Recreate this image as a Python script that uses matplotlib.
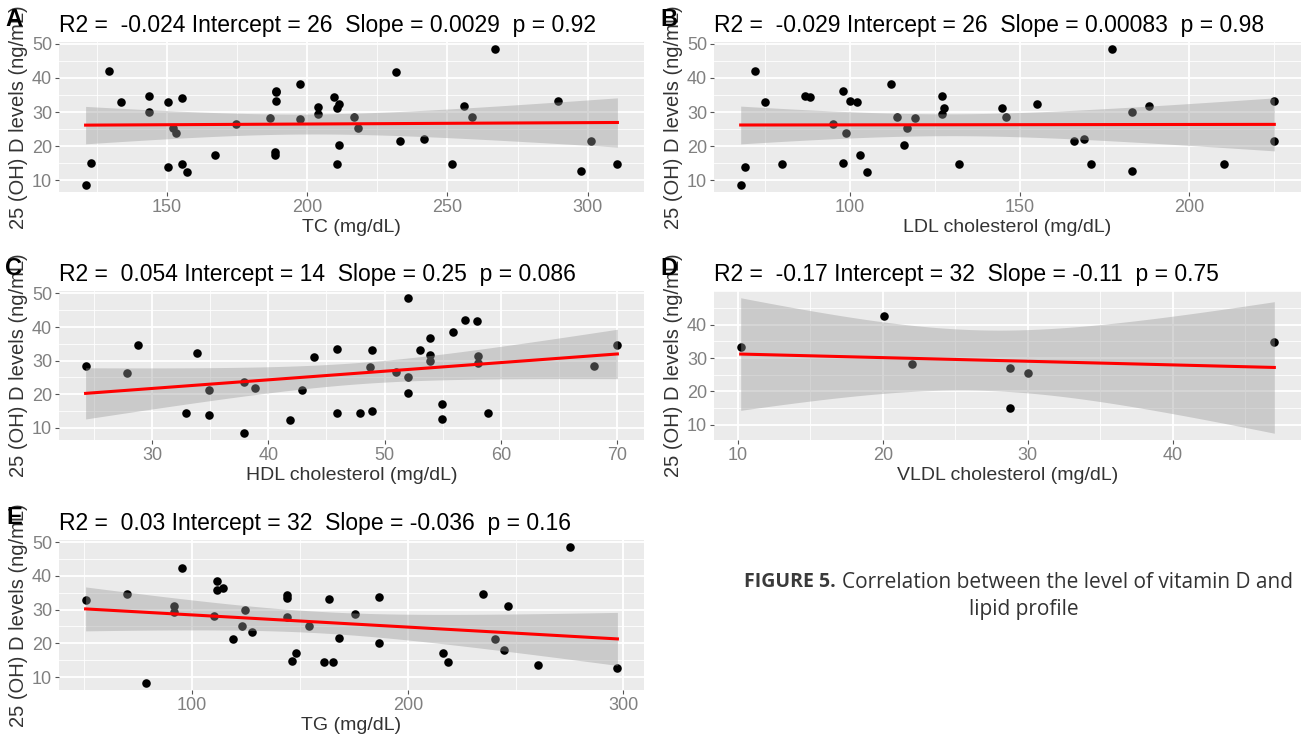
import numpy as np
import matplotlib.pyplot as plt
from matplotlib.ticker import FixedLocator, MultipleLocator

plt.rcParams["font.family"] = ["Liberation Sans", "DejaVu Sans"]

# Panel A: total cholesterol
tc_mg = [121, 123, 129.4, 133.5, 143.5, 143.5, 150.3, 150.3, 152, 153.4, 155.4, 155.4,
         157.2, 167.2, 174.6, 186.6, 188.8, 188.8, 188.8, 188.6, 188.6, 197.3, 197.3,
         203.8, 203.8, 209.7, 210.6, 211.4, 211.4, 210.6, 216.7, 218, 231.8, 233, 241.7,
         251.8, 256, 258.9, 266.8, 289.4, 297.5, 301.3, 310.6]
tc_vitd = [8.6, 15, 42, 33, 34.6, 30, 33, 14, 25.4, 23.8, 34.2, 14.7, 12.4, 17.4, 26.6,
           28.3, 36.3, 35.8, 33.3, 18.4, 17.4, 38.2, 27.9, 31.5, 29.5, 34.5, 31.2, 32.3,
           20.4, 14.7, 28.6, 25.3, 41.6, 21.5, 22, 14.7, 31.7, 28.6, 48.5, 33.3, 12.8,
           21.5, 14.7]

# Panel B: LDL cholesterol
ldl_mg = [67.7, 68.9, 71.8, 74.9, 79.8, 86.6, 88.2, 95, 98, 98, 98.7, 99.9, 101.9, 102.8,
          104.9, 111.9, 113.9, 115.9, 116.8, 119.2, 127.2, 127.2, 127.8, 132.1, 144.9,
          146.1, 155, 165.9, 169, 170.9, 177.1, 183.1, 183.1, 188.1, 210.4, 225.1, 225.1]
ldl_vitd = [8.6, 14, 42, 33, 14.7, 34.6, 34.3, 26.6, 36.3, 15, 23.8, 33.3, 32.8, 17.4,
            12.4, 38.2, 28.6, 20.5, 25.3, 28.3, 34.6, 29.4, 31.2, 14.7, 31.2, 28.6, 32.3,
            21.5, 22, 14.7, 48.5, 30, 12.8, 31.7, 14.7, 33.3, 21.5]

# Panel C: HDL cholesterol
hdl_mg = [24.3, 27.9, 28.8, 32.9, 33.9, 34.9, 34.9, 37.9, 37.9, 38.9, 41.9, 42.9, 43.9,
          45.9, 45.9, 47.9, 48.7, 48.9, 48.9, 51, 52, 52, 52, 53, 53.9, 53.9, 53.9, 54.9,
          54.9, 55.9, 56.9, 57.9, 58, 58, 58.9, 68, 70]
hdl_vitd = [28.5, 26.3, 34.7, 14.5, 32.2, 21.4, 13.7, 23.6, 8.4, 21.9, 12.2, 21.4, 31.2,
            33.5, 14.5, 14.5, 28.1, 33.2, 14.9, 26.5, 48.7, 25, 20.3, 33.2, 36.6, 31.8,
            29.9, 17.2, 12.7, 38.4, 42, 41.7, 31.4, 29.2, 14.5, 28.5, 34.7]

# Panel D: VLDL cholesterol
vldl_mg = [10.2, 20.1, 22, 28.8, 28.8, 30, 47]
vldl_vitd = [33.2, 42.5, 28.1, 26.9, 15, 25.4, 34.7]

# Panel E: triglycerides
tg_mg = [50.6, 69.7, 78.7, 91.6, 91.6, 95.2, 110.1, 111.6, 111.6, 114.5, 118.9, 123.1,
         124.4, 127.9, 144, 144, 144, 146.4, 148.3, 154.1, 161.1, 163.3, 165.3, 168.1,
         175.4, 186.6, 186.6, 216.1, 218.5, 234.9, 240.6, 244.8, 246.6, 260.2, 275.4, 297.2]
tg_vitd = [32.9, 34.5, 8.2, 31.2, 29.2, 42.2, 28, 38.4, 35.9, 36.4, 21.2, 25, 30, 23.5,
           34.3, 33.5, 27.8, 14.7, 17, 25, 14.4, 33.1, 14.4, 21.6, 28.6, 33.6, 20.1, 17.1,
           14.4, 34.5, 21.3, 18.1, 31.2, 13.6, 48.6, 12.6]

titles = [
    "R2 =  -0.024 Intercept = 26  Slope = 0.0029  p = 0.92",
    "R2 =  -0.029 Intercept = 26  Slope = 0.00083  p = 0.98",
    "R2 =  0.054 Intercept = 14  Slope = 0.25  p = 0.086",
    "R2 =  -0.17 Intercept = 32  Slope = -0.11  p = 0.75",
    "R2 =  0.03 Intercept = 32  Slope = -0.036  p = 0.16",
]
x_labels = ["TC (mg/dL)", "LDL cholesterol (mg/dL)", "HDL cholesterol (mg/dL)",
            "VLDL cholesterol (mg/dL)", "TG (mg/dL)"]
panel_letters = ["A", "B", "C", "D", "E"]
x_steps = [50, 50, 10, 10, 100]
y_ticks = [[10, 20, 30, 40, 50], [10, 20, 30, 40, 50], [10, 20, 30, 40, 50],
           [10, 20, 30, 40], [10, 20, 30, 40, 50]]
y_label = "25 (OH) D levels (ng/mL)"


def t_quantile(df, z=1.959964):
    # Cornish-Fisher approximation of the 97.5% t quantile
    return (z + (z**3 + z) / (4 * df)
            + (5 * z**5 + 16 * z**3 + 3 * z) / (96 * df**2)
            + (3 * z**7 + 19 * z**5 + 17 * z**3 - 15 * z) / (384 * df**3))


def draw_panel(ax, x, y, title, xlabel, step, yticks):
    x = np.asarray(x, float)
    y = np.asarray(y, float)
    n = len(x)
    slope, intercept = np.polyfit(x, y, 1)
    xs = np.linspace(x.min(), x.max(), 80)
    fit = intercept + slope * xs
    resid = y - (intercept + slope * x)
    s = np.sqrt(np.sum(resid**2) / (n - 2))
    se = s * np.sqrt(1 / n + (xs - x.mean())**2 / np.sum((x - x.mean())**2))
    t = t_quantile(n - 2)
    lo, hi = fit - t * se, fit + t * se

    ax.set_facecolor("#EBEBEB")
    ax.scatter(x, y, s=38, color="black", linewidths=0, zorder=2)
    ax.fill_between(xs, lo, hi, color="#999999", alpha=0.4, lw=0, zorder=3)
    ax.plot(xs, fit, color="red", lw=2.2, zorder=4)

    xr = x.max() - x.min()
    ax.set_xlim(x.min() - 0.05 * xr, x.max() + 0.05 * xr)
    ymin, ymax = min(y.min(), lo.min()), max(y.max(), hi.max())
    yr = ymax - ymin
    ax.set_ylim(ymin - 0.05 * yr, ymax + 0.05 * yr)

    ax.xaxis.set_major_locator(MultipleLocator(step))
    ax.xaxis.set_minor_locator(MultipleLocator(step / 2))
    ax.yaxis.set_major_locator(FixedLocator(yticks))
    ax.yaxis.set_minor_locator(MultipleLocator(5))
    ax.grid(which="major", color="white", lw=1.3)
    ax.grid(which="minor", color="white", lw=0.6)
    ax.set_axisbelow(True)
    for sp in ax.spines.values():
        sp.set_visible(False)
    ax.tick_params(which="major", length=3, color="#555555",
                   labelcolor="#808080", labelsize=13, pad=2)
    ax.tick_params(which="minor", length=0)
    ax.set_xlabel(xlabel, fontsize=14, color="#333333", labelpad=2)
    ax.set_ylabel(y_label, fontsize=14.5, color="#333333", labelpad=3)
    ax.set_title(title, loc="left", fontsize=16.5, pad=7)


fig = plt.figure(figsize=(13.04, 7.38), dpi=100)
W, H = 1304, 738
# plot areas in pixels: left, top, right, bottom
boxes = [(59, 42, 644, 192), (714, 42, 1301, 192),
         (59, 291, 644, 440), (714, 291, 1301, 440),
         (59, 540, 644, 690)]
xs_all = [tc_mg, ldl_mg, hdl_mg, vldl_mg, tg_mg]
ys_all = [tc_vitd, ldl_vitd, hdl_vitd, vldl_vitd, tg_vitd]

for i, (l, t, r, b) in enumerate(boxes):
    ax = fig.add_axes([l / W, 1 - b / H, (r - l) / W, (b - t) / H])
    draw_panel(ax, xs_all[i], ys_all[i], titles[i], x_labels[i], x_steps[i], y_ticks[i])
    fig.text((l - 45) / W, 1 - (t - 22) / H, panel_letters[i], fontsize=17,
             fontweight="bold", ha="center", va="center")

cap_font = ["Open Sans", "DejaVu Sans"]
fig.text(836 / W, 1 - 582 / H, "FIGURE 5.", ha="right", va="center", fontsize=14,
         fontweight="bold", color="#3a3a3a", family=cap_font)
fig.text(842 / W, 1 - 582 / H, "Correlation between the level of vitamin D and",
         ha="left", va="center", fontsize=15, color="#333333", family=cap_font)
fig.text(1024 / W, 1 - 609 / H, "lipid profile", ha="center", va="center",
         fontsize=15, color="#333333", family=cap_font)

fig.savefig("out.png", dpi=100)
